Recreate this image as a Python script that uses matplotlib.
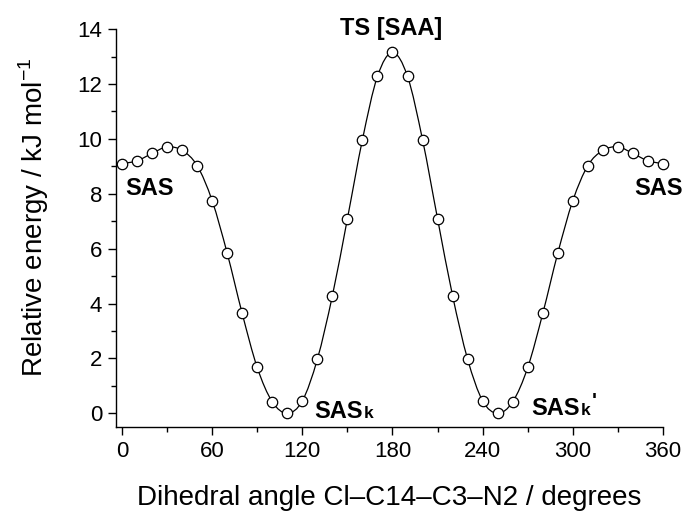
import numpy as np
import matplotlib
matplotlib.use("Agg")
import matplotlib.pyplot as plt
from matplotlib.path import Path
from matplotlib.patches import PathPatch
from matplotlib.ticker import MultipleLocator

plt.rcParams['font.family'] = ['Liberation Sans', 'DejaVu Sans']
plt.rcParams['mathtext.fontset'] = 'custom'
plt.rcParams['mathtext.rm'] = 'Liberation Sans'

# ---- data: dihedral scan, every 10 degrees ----
angle = np.arange(0, 361, 10)
energy = [9.1, 9.2, 9.47, 9.71, 9.58, 9.03, 7.75, 5.84, 3.64, 1.67,
          0.42, 0.0, 0.45, 1.97, 4.28, 7.09, 9.97, 12.28, 13.15, 12.28,
          9.97, 7.09, 4.28, 1.97, 0.45, 0.0, 0.42, 1.67, 3.64, 5.84,
          7.75, 9.03, 9.58, 9.71, 9.47, 9.2, 9.1]

# conformer labels: (text, x, y, ha)
labels = [("SAS", 2.5, 7.97, "left"),
          ("TS [SAA]", 179, 13.78, "center"),
          ("SAS", 128, -0.18, "left"),
          ("SAS", 272.5, -0.07, "left"),
          ("SAS", 373, 7.97, "right")]
# small "k" after the minima labels, prime on the second one
k_labels = [(128, -0.18, False), (272.5, -0.07, True)]


# smooth curve through the points (Catmull-Rom as cubic Bezier segments)
def smooth_path(x, y):
    x = np.asarray(x, float)
    y = np.asarray(y, float)
    n = len(x)
    verts = [(x[0], y[0])]
    codes = [Path.MOVETO]
    for i in range(n - 1):
        i0 = max(i - 1, 0)
        i3 = min(i + 2, n - 1)
        c1 = (x[i] + (x[i + 1] - x[i0]) / 6, y[i] + (y[i + 1] - y[i0]) / 6)
        c2 = (x[i + 1] - (x[i3] - x[i]) / 6, y[i + 1] - (y[i3] - y[i]) / 6)
        verts += [c1, c2, (x[i + 1], y[i + 1])]
        codes += [Path.CURVE4] * 3
    return Path(verts, codes)


fig = plt.figure(figsize=(6.86, 5.18), dpi=100)
ax = fig.add_axes([0.169, 0.1757, 0.7975, 0.768])

ax.add_patch(PathPatch(smooth_path(angle, energy), fill=False, lw=0.9, color="black", zorder=2))
ax.plot(angle, energy, ls="none", marker="o", ms=7.5, mfc="white", mec="black", mew=0.9,
        zorder=3, clip_on=False)

for txt, x, y, ha in labels:
    ax.text(x, y, txt, ha=ha, va="baseline", fontsize=17, fontweight="bold", clip_on=False)

for x, y, prime in k_labels:
    ax.annotate("k", xy=(x, y), xytext=(35.5, 0), textcoords="offset points",
                ha="left", va="baseline", fontsize=12.5, fontweight="bold")
    if prime:
        ax.annotate("'", xy=(x, y), xytext=(43.5, 6), textcoords="offset points",
                    ha="left", va="baseline", fontsize=15, fontweight="bold")

ax.set_xlim(-4, 360)
ax.set_ylim(-0.5, 14)
ax.xaxis.set_major_locator(MultipleLocator(60))
ax.xaxis.set_minor_locator(MultipleLocator(30))
ax.yaxis.set_major_locator(MultipleLocator(2))
ax.yaxis.set_minor_locator(MultipleLocator(1))

for s in ["top", "right"]:
    ax.spines[s].set_visible(False)
for s in ["left", "bottom"]:
    ax.spines[s].set_linewidth(1.0)

ax.tick_params(which="major", direction="out", length=6, width=1.0, labelsize=16, pad=4)
ax.tick_params(which="minor", direction="out", length=3.5, width=1.0)

ax.set_xlabel("Dihedral angle Cl\u2013C14\u2013C3\u2013N2 / degrees", fontsize=20, labelpad=17)
ax.set_ylabel(r"Relative energy / kJ mol$^{-1}$", fontsize=20, labelpad=18.5)
ax.yaxis.label.set_y(0.527)

fig.savefig("out.png", dpi=100)
